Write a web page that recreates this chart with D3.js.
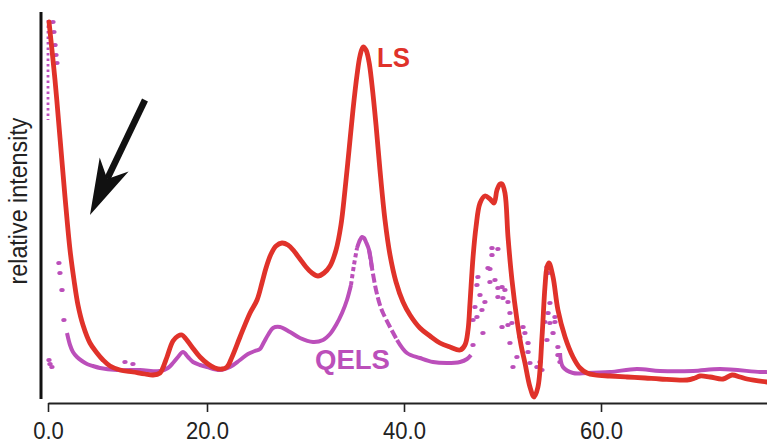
<!DOCTYPE html>
<html><head><meta charset="utf-8">
<script src="https://cdn.jsdelivr.net/npm/d3@7"></script>
<style>body{margin:0;background:#fff} svg{display:block}</style>
</head><body><svg id="c" width="767" height="442"></svg>
<script>
// ---- data ----
const xTicks = [0, 20, 40, 60];
const yLabel = "relative intensity";
const seriesNames = ["LS", "QELS"];

const lsX = [0.13,0.88,1.51,2.14,2.77,3.27,3.77,4.40,5.28,6.16,6.92,7.80,9.06,10.69,12.20,13.21,14.09,14.34,14.97,15.72,16.35,16.86,17.36,18.11,19.12,20.10,20.81,21.52,22.03,22.54,23.35,24.37,25.08,25.58,25.99,26.50,27.01,27.61,28.22,28.83,29.44,30.05,30.66,31.27,31.88,32.49,33.10,33.60,34.01,34.42,34.82,35.23,35.53,35.84,36.14,36.45,36.75,37.16,37.56,38.07,38.58,39.19,39.90,40.61,41.62,42.64,43.65,44.67,45.69,46.19,46.50,46.70,47.01,47.31,47.72,48.22,48.73,49.14,49.44,49.75,49.95,50.25,50.56,50.96,51.47,51.88,52.28,52.79,53.20,53.60,54.01,54.31,54.52,54.72,55.13,55.63,56.35,57.16,57.87,58.58,59.39,60.91,62.64,64.47,65.99,68.73,69.54,70.05,71.07,72.39,73.30,74.11,74.82,76.85];
const lsY = [94.5,80,65.5,50.75,37.5,30,23.75,18.75,14.25,11.75,10,8.5,7.5,7,6.5,6.25,6.75,7.5,10.75,14.75,16,16.25,15.25,13.25,10.75,9,8,7.75,8.25,10.75,15.75,21.75,25,29.25,33,36.5,38.5,39.25,38.75,37.25,35.25,33.25,31.75,31,31.75,33.5,37.5,43.75,52.5,62.5,72.5,81.25,86,88.25,87.5,84.5,78.75,68.75,57.5,45,36.25,29.5,24.5,21.25,18,16,14.25,13.25,12.5,13.75,17.5,24.25,35.75,43.25,49.25,51,50.25,49.25,52.5,54,54,51.75,40.75,30,20,13.75,9.25,3.25,0.75,3.25,15.75,28.25,33.25,34.25,30.75,22.5,15.75,10.75,8,6.75,6.25,6,5.75,5.5,5.25,5,5.5,6,5.75,5.25,6.25,5.75,5.25,4.5];

// QELS main trace
const qX = [2.39,2.77,3.14,3.65,4.28,4.91,5.66,6.54,8.68,11.57,14.09,15.09,15.72,16.35,16.98,17.61,18.24,19.12,20.00,21.32,22.34,23.35,24.16,24.87,25.38,25.79,26.19,26.70,27.41,28.43,29.44,30.76,31.78,32.49,33.10,33.71,34.21,34.62,34.92,35.23,35.53,35.74,35.94,36.14,36.45,36.75,37.16,37.56,37.87,38.58,39.29,40.30,41.62,42.94,44.36,45.69,46.40,46.80];
const qY = [16.75,13.75,12,10.75,9.75,9,8.5,8,7.5,7.5,7.25,8,9.25,10.75,12,10.75,9.5,8.75,8.25,7.5,8.25,10,11.5,12.25,12.75,14.5,16.25,18,18.25,17,15.5,14.5,15,16.5,18.75,21.75,25,28.75,33.75,38,40,40.75,40.5,39.5,37.5,33,27.5,23.75,21.75,18.25,15,11.75,10.5,9.5,9.25,9.5,10.25,11.25];
// QELS trailing trace
const qTailX = [55.84,56.14,57.16,58.58,60.91,63.65,65.99,69.34,72.08,76.14,76.85];
const qTailY = [11.75,8.25,6.75,6.75,7,7.75,7.25,7.25,7.75,7,7];
// QELS first (dotted) trace at injection
const qStartX = [0, 0];
const qStartY = [95, 70];
// QELS scattered noisy readings
const qDotX = [0.63,0.75,0.88,1.01,1.13,1.38,1.51,1.76,2.01,0.13,0.25,0.50,9.69,10.69,
  48.93,49.54,48.93,48.53,48.73,47.51,47.41,48.73,49.24,49.95,50.25,49.54,47.72,49.54,50.05,50.56,48.22,47.21,47.92,47.41,47.01,50.76,50.96,49.95,50.56,48.02,47.01,50.76,52.08,52.28,51.78,52.59,52.59,51.07,52.79,53.50,53.81,54.01,51.47,
  54.52,54.62,54.82,54.62,54.82,55.33,55.13,54.52,55.63,55.63,55.84,55.33,54.31];
const qDotY = [94.5,92,88.75,86.25,84.25,34.25,31.75,27.5,20,10,9,8.25,9.5,9,
  38,37.75,36.25,33,32.75,30.75,28.75,29.5,30,28.25,27.5,28,26.25,25.75,25.5,24.5,24.5,23.25,22.5,20.75,20,21.75,19.25,18.25,18.75,16.75,13.75,14.25,18.25,16.75,15.75,14.25,12,8.25,9.25,8.25,9.5,7.5,10.75,
  33.25,31.75,24.25,21.75,19.25,19.5,16.75,15,13.25,11.25,9.5,20.75,19.5];

// annotation arrow (data coords): tail, tip
const arrowX = [12.20, 5.28];
const arrowY = [75, 46.25];

// ---- chart ----
const RED = "#e0322a", MAG = "#bb4fba";
const svg = d3.select("#c");
const x = d3.scaleLinear().domain([0, 20, 80]).range([48, 207, 798]);
const y = d3.scaleLinear().domain([0, 100]).range([400, 0]);
const FONT = "'Liberation Sans', Arial, Helvetica, sans-serif";

// axes
const xa = svg.append("g").attr("transform", "translate(0,403)")
  .call(d3.axisBottom(x).tickValues(xTicks).tickFormat(d3.format(".1f")).tickSize(9).tickSizeOuter(0));
xa.select(".domain").attr("stroke", "#222").attr("stroke-width", 2);
xa.selectAll(".tick line").attr("stroke", "#222").attr("stroke-width", 1.6);
xa.selectAll(".tick text").attr("y", 36.5).attr("dy", 0)
  .attr("font-family", FONT).attr("font-size", 24.5).attr("fill", "#222")
  .attr("transform", "scale(0.9,1)");

svg.append("line").attr("x1", 41).attr("x2", 41).attr("y1", 12).attr("y2", 399)
  .attr("stroke", "#111").attr("stroke-width", 3);

svg.append("text").attr("transform", "translate(27,201) rotate(-90)")
  .attr("text-anchor", "middle").attr("font-family", FONT).attr("font-size", 25)
  .attr("fill", "#222").attr("textLength", 167).attr("lengthAdjust", "spacingAndGlyphs")
  .text(yLabel);

const line = d3.line().x(d => x(d[0])).y(d => y(d[1])).curve(d3.curveCatmullRom.alpha(0.5));
const zip = (a, b) => a.map((v, i) => [v, b[i]]);

// QELS
svg.append("path").datum(zip(qStartX, qStartY)).attr("d", d3.line().x(d => x(d[0])).y(d => y(d[1])))
  .attr("fill", "none").attr("stroke", MAG).attr("stroke-width", 2.8).attr("stroke-dasharray", "2.5,3");
const qPts = zip(qX, qY);
const noisy = d => (d[0] > 34.5 && d[0] < 35.3) || (d[0] > 36.5 && d[0] < 39.5);
svg.append("path").datum(qPts)
  .attr("d", line.defined(d => !noisy(d) || d[0] === 34.62 || d[0] === 35.23 || d[0] === 36.75 || d[0] === 39.29)(qPts))
  .attr("fill", "none").attr("stroke", MAG).attr("stroke-width", 4).attr("stroke-linejoin", "round");
line.defined(() => true);
svg.append("path")
  .attr("d", d3.line().x(d => x(d[0])).y(d => y(d[1])).curve(d3.curveCatmullRom.alpha(0.5))
    .defined(d => d[0] >= 34.5 && d[0] <= 35.3)(qPts))
  .attr("fill", "none").attr("stroke", MAG).attr("stroke-width", 4).attr("stroke-dasharray", "4,3");
svg.append("path")
  .attr("d", d3.line().x(d => x(d[0])).y(d => y(d[1])).curve(d3.curveCatmullRom.alpha(0.5))
    .defined(d => d[0] >= 36.4 && d[0] <= 39.4)(qPts))
  .attr("fill", "none").attr("stroke", MAG).attr("stroke-width", 4).attr("stroke-dasharray", "9,3");
svg.append("path").datum(zip(qTailX, qTailY)).attr("d", line)
  .attr("fill", "none").attr("stroke", MAG).attr("stroke-width", 4).attr("stroke-linejoin", "round");
svg.append("g").selectAll("ellipse").data(zip(qDotX, qDotY)).join("ellipse")
  .attr("cx", d => x(d[0])).attr("cy", d => y(d[1])).attr("rx", 2.7).attr("ry", 2.1).attr("fill", MAG);

// LS
svg.append("path").datum(zip(lsX, lsY)).attr("d", line)
  .attr("fill", "none").attr("stroke", RED).attr("stroke-width", 4.8)
  .attr("stroke-linejoin", "round").attr("stroke-linecap", "round");

// labels
svg.append("text").attr("x", 377).attr("y", 67).attr("font-family", FONT).attr("font-weight", "bold")
  .attr("font-size", 27.5).attr("fill", RED).attr("textLength", 33).attr("lengthAdjust", "spacingAndGlyphs").text(seriesNames[0]);
svg.append("text").attr("x", 315).attr("y", 369).attr("font-family", FONT).attr("font-weight", "bold")
  .attr("font-size", 27).attr("fill", MAG).attr("textLength", 75).attr("lengthAdjust", "spacingAndGlyphs").text(seriesNames[1]);

// arrow
const T = [x(arrowX[1]), y(arrowY[1])], S = [x(arrowX[0]), y(arrowY[0])];
const dx = T[0] - S[0], dy = T[1] - S[1], L = Math.hypot(dx, dy);
const u = [dx / L, dy / L], n = [-u[1], u[0]];
const pt = (a, w) => [T[0] - u[0] * a + n[0] * w, T[1] - u[1] * a + n[1] * w];
const notch = pt(40, 0);
svg.append("line").attr("x1", S[0]).attr("y1", S[1]).attr("x2", notch[0]).attr("y2", notch[1])
  .attr("stroke", "#111").attr("stroke-width", 6.5);
svg.append("path").attr("d", "M" + [T, pt(56, 16), pt(40, 0), pt(56, -16)].map(p => p.join(",")).join("L") + "Z")
  .attr("fill", "#111");
</script></body></html>
